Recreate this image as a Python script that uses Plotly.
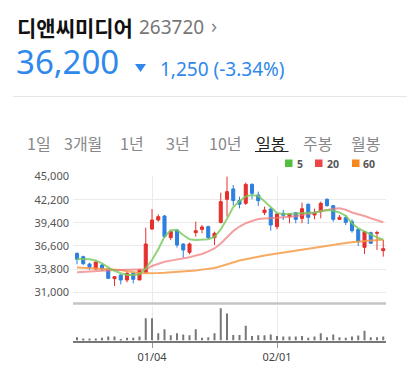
import plotly.graph_objects as go

W, H = 407, 368
def X(px): return px / W
def Y(py): return 1 - py / H

# ---------------- data ----------------
idx = list(range(50))
open_p = [35700, 35300, 34420, 33820, 34300, 33820, 32650, 33090, 32490, 33290,
          32490, 33410, 38650, 39740, 40225, 37605, 38530, 36840, 35830, 38210,
          38610, 38935, 37605, 39440, 42240, 43500, 42100, 41755, 44050, 42765,
          40630, 41070, 38935, 40550, 40145, 40630, 39940, 41635, 40345, 40750,
          42240, 41475, 39820, 40025, 39540, 38610, 36435, 38210, 38130, 36035]
high_p = [35830, 35430, 34580, 34700, 34420, 33980, 32970, 33170, 33490, 33410,
          33820, 38810, 41070, 40425, 40345, 38530, 38610, 36920, 37000, 39540,
          39140, 39060, 38330, 43045, 44980, 43970, 42560, 44255, 44175, 43165,
          41355, 41270, 40550, 40950, 40470, 40710, 41837, 41755, 41110, 41957,
          42360, 41555, 40345, 40345, 39820, 38730, 38330, 38330, 38450, 37325]
low_p = [34380, 34300, 33700, 33700, 33575, 32600, 31760, 31960, 32200, 32080,
         32490, 33410, 38530, 39540, 37605, 37320, 36400, 35185, 35590, 37725,
         38130, 37445, 36720, 39340, 40140, 41500, 41150, 41555, 42240, 41435,
         40345, 38450, 38615, 39740, 39340, 39340, 39340, 39260, 39820, 39940,
         41355, 39540, 39740, 39135, 38210, 36600, 35630, 36920, 36115, 35310]
close_p = [35000, 34460, 33980, 34660, 33820, 32690, 32890, 32490, 33290, 32570,
           33700, 36840, 39740, 40145, 37725, 38330, 36720, 36115, 36840, 38450,
           38895, 37605, 38130, 41958, 43170, 42100, 41650, 44050, 42965, 42080,
           40950, 39135, 40470, 40305, 40470, 39820, 41110, 40065, 40630, 41755,
           41475, 39820, 40065, 39460, 38450, 37120, 38330, 36920, 38210, 36275]
ma5 = [35030, 35000, 34985, 34850, 34500, 34020, 33600, 33300, 33100, 33090,
       33170, 33900, 34900, 36200, 37700, 38500, 38530, 37930, 37400, 37330,
       37400, 37420, 37700, 38600, 39900, 41300, 42000, 42600, 42760, 42650,
       42000, 41300, 40600, 40430, 40460, 40530, 40600, 40600, 40650, 40800,
       40950, 40850, 40650, 40250, 39350, 38730, 38350, 38050, 37650, 37330]
ma20 = [33420, 33480, 33540, 33600, 33640, 33670, 33700, 33700, 33700, 33700,
        33720, 33780, 34180, 34450, 34700, 34830, 34950, 35050, 35250, 35450,
        35630, 35950, 36300, 36900, 37700, 38400, 38950, 39350, 39620, 39850,
        39930, 39940, 40000, 40060, 40100, 40200, 40330, 40480, 40600, 40750,
        40950, 41100, 41150, 40980, 40650, 40450, 40230, 39950, 39700, 39460]
ma60 = [34000, 33950, 33900, 33870, 33840, 33800, 33780, 33700, 33550, 33400,
        33330, 33300, 33290, 33320, 33360, 33400, 33450, 33520, 33580, 33650,
        33740, 33830, 33950, 34150, 34400, 34650, 34850, 35000, 35170, 35300,
        35450, 35580, 35700, 35820, 35930, 36050, 36180, 36290, 36400, 36520,
        36640, 36760, 36860, 36960, 37050, 37120, 37200, 37300, 37400, 37380]
volume = [10, 6, 6, 6, 8, 12, 12, 4, 8, 8,
          12, 68, 68, 22, 34, 16, 22, 18, 16, 34,
          8, 10, 22, 98, 82, 17, 17, 45, 14, 16,
          16, 18, 14, 12, 12, 12, 14, 8, 12, 22,
          10, 18, 10, 8, 12, 15, 30, 10, 10, 12]
date_ticks = [12, 32]
date_labels = ["01/04", "02/01"]
price_ticks = [31000, 33800, 36600, 39400, 42200, 45000]
tabs = ["1일", "3개월", "1년", "3년", "10년", "일봉", "주봉", "월봉"]
tab_x = [26, 63, 119, 165, 208, 255, 302, 350]
ma_names = ["5", "20", "60"]

UP = "#e5302d"
DOWN = "#2d7fe0"
BLUE_TXT = "#2f88ec"

fig = go.Figure()

# MA lines
fig.add_trace(go.Scatter(x=idx, y=ma60, mode="lines", line=dict(color="rgba(247,155,70,0.85)", width=2), hoverinfo="skip"))
fig.add_trace(go.Scatter(x=idx, y=ma20, mode="lines", line=dict(color="rgba(240,120,120,0.7)", width=2), hoverinfo="skip"))
fig.add_trace(go.Scatter(x=idx, y=ma5, mode="lines", line=dict(color="rgba(120,200,90,0.8)", width=2), hoverinfo="skip"))

fig.add_trace(go.Candlestick(
    x=idx, open=open_p, high=high_p, low=low_p, close=close_p,
    increasing=dict(line=dict(color=UP, width=1), fillcolor=UP),
    decreasing=dict(line=dict(color=DOWN, width=1), fillcolor=DOWN),
    whiskerwidth=0, xaxis="x", yaxis="y"))

fig.add_trace(go.Bar(x=idx, y=volume, width=0.32, marker=dict(color="#777777", line=dict(width=0)),
                     xaxis="x2", yaxis="y2", hoverinfo="skip"))

x0, x1 = 73, 386
xr = [(x0 - 77) / 6.25, (x1 - 77) / 6.25]
yp = 120.9
price_range = [45000 - (304 - 176.5) * yp, 45000 + 0.5 * yp]

fig.update_layout(
    width=W, height=H,
    margin=dict(l=0, r=0, t=0, b=0),
    paper_bgcolor="white", plot_bgcolor="white",
    showlegend=False,
    font=dict(family="Noto Sans", color="#555"),
    xaxis=dict(domain=[X(x0), X(x1)], range=xr, anchor="y",
               tickvals=date_ticks, showticklabels=False, ticks="",
               showgrid=True, gridcolor="#ebebeb", gridwidth=1, zeroline=False,
               rangeslider=dict(visible=False), showline=False, fixedrange=True),
    yaxis=dict(domain=[Y(304), Y(176)], range=price_range, anchor="x",
               tickvals=price_ticks, tickformat=",d", ticks="",
               tickfont=dict(family="Noto Sans", size=11, color="#555"),
               showgrid=True, gridcolor="#ebebeb", gridwidth=1, zeroline=False,
               showline=False, automargin=False, ticklabelstandoff=3),
    xaxis2=dict(domain=[X(x0), X(x1)], range=xr, anchor="y2",
                tickvals=date_ticks, ticktext=date_labels, ticks="outside",
                ticklen=5, tickcolor="#999", tickwidth=1,
                tickfont=dict(family="Noto Sans", size=11, color="#444"),
                showgrid=True, gridcolor="#ebebeb", zeroline=False,
                showline=True, linecolor="#777", linewidth=2, automargin=False),
    yaxis2=dict(domain=[Y(340.5), Y(306)], range=[0, 105], anchor="x2",
                showticklabels=False, showgrid=False, zeroline=False, ticks=""),
)

shapes = []
# separator between price and volume
shapes.append(dict(type="line", xref="paper", yref="paper", x0=X(x0), x1=X(x1), y0=Y(303.5), y1=Y(303.5),
                   line=dict(color="#c4c4c4", width=2.5)))
# header divider
shapes.append(dict(type="line", xref="paper", yref="paper", x0=X(13), x1=X(407), y0=Y(96.5), y1=Y(96.5),
                   line=dict(color="#e6e6e6", width=1)))
# down triangle
shapes.append(dict(type="path", xref="paper", yref="paper",
                   path=f"M {X(135)} {Y(64)} L {X(146)} {Y(64)} L {X(140.5)} {Y(72)} Z",
                   fillcolor=BLUE_TXT, line=dict(width=0)))
# underline for selected tab
shapes.append(dict(type="line", xref="paper", yref="paper", x0=X(255), x1=X(288.5), y0=Y(151.5), y1=Y(151.5),
                   line=dict(color="#222", width=1.2)))
# legend squares
for sx, col in zip([285, 315, 352], ["#52bf3f", "#ee4646", "#f6871e"]):
    shapes.append(dict(type="rect", xref="paper", yref="paper", x0=X(sx), x1=X(sx + 7.5), y0=Y(167), y1=Y(159.5),
                       fillcolor=col, line=dict(width=0)))
fig.update_layout(shapes=shapes)

ann = []
def txt(s, px, py, size, color, family="Noto Sans", anchor="left"):
    ann.append(dict(text=s, xref="paper", yref="paper", x=X(px), y=Y(py), xanchor=anchor, yanchor="middle",
                    showarrow=False, font=dict(size=size, color=color, family=family)))

txt("<b>디앤씨미디어</b>", 15, 27.5, 21, "#111", "Noto Sans CJK KR")
txt("263720", 137, 27.5, 19, "#777")
txt("›", 209, 26, 20, "#888")
txt("36,200", 14, 62, 33, BLUE_TXT)
txt("1,250 (-3.34%)", 158, 69, 19, BLUE_TXT)
for t, tx in zip(tabs, tab_x):
    col = "#222" if t == "일봉" else "#888"
    txt(t, tx - 1, 142.5, 16, col, "Noto Sans CJK KR")
for name, lx in zip(ma_names, [295, 325, 361]):
    txt(f"<b>{name}</b>", lx, 163.5, 10.5, "#555")
fig.update_layout(annotations=ann)

fig.write_html("out.html", config={"displayModeBar": False},
               post_script="document.body.style.margin='0px';document.body.style.overflow='hidden';")
